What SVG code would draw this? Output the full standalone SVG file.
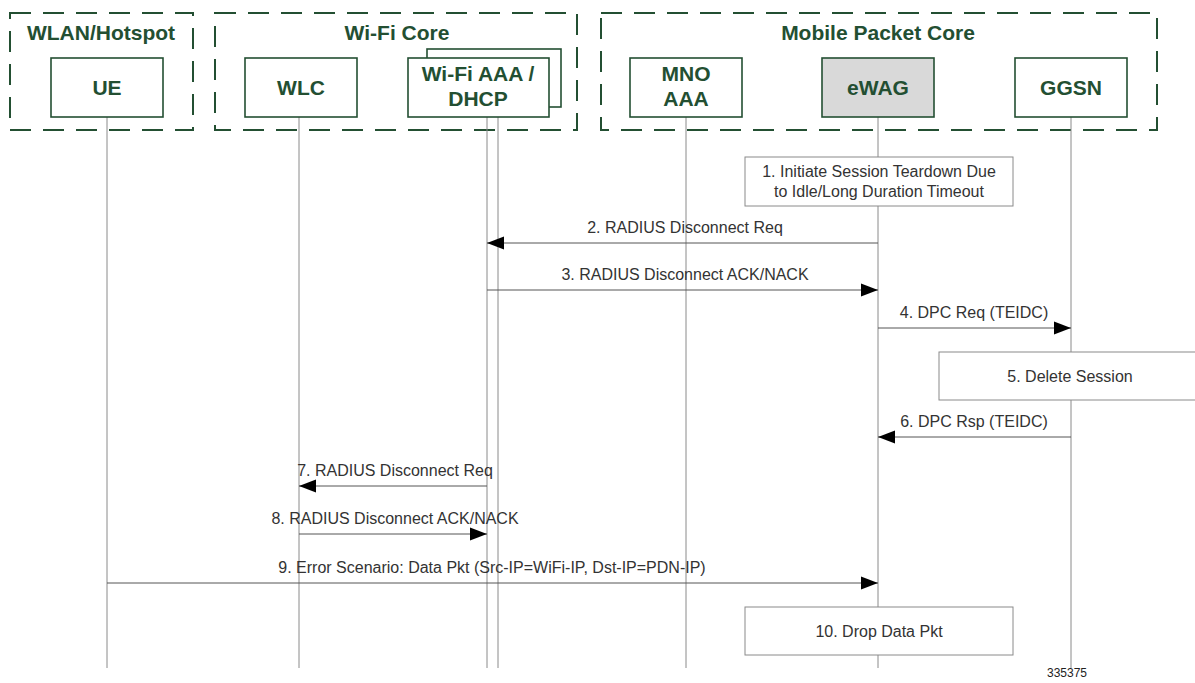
<svg xmlns="http://www.w3.org/2000/svg" width="1195" height="683" viewBox="0 0 1195 683">
<defs>
<style>
.grp{fill:none;stroke:#234f32;stroke-width:2;stroke-dasharray:21 12}
.gt{font-family:"Liberation Sans",Arial,sans-serif;font-weight:bold;font-size:21px;fill:#234f32;text-anchor:middle}
.nb{fill:#fff;stroke:#234f32;stroke-width:1.6}
.nt{font-family:"Liberation Sans",Arial,sans-serif;font-weight:bold;font-size:21px;fill:#234f32;text-anchor:middle}
.life{stroke:#8a8a8a;stroke-width:1;fill:none}
.msg{stroke:#555;stroke-width:1;fill:none}
.lbl{font-family:"Liberation Sans",Arial,sans-serif;font-size:16px;fill:#333;text-anchor:middle}
.box{fill:#fff;stroke:#8a8a8a;stroke-width:1}
</style>
<marker id="ah" markerWidth="17" markerHeight="14" refX="17" refY="7" orient="auto" markerUnits="userSpaceOnUse">
<path d="M0,0.5 L17,7 L0,13.5 Z" fill="#000"/>
</marker>
</defs>
<rect width="1195" height="683" fill="#fff"/>

<g id="groups">
<rect class="grp" x="10" y="13" width="183" height="117"/>
<text class="gt" x="101" y="40">WLAN/Hotspot</text>
<rect class="grp" x="215" y="13" width="362" height="117"/>
<text class="gt" x="397" y="40">Wi-Fi Core</text>
<rect class="grp" x="601" y="13" width="556" height="117"/>
<text class="gt" x="878" y="40">Mobile Packet Core</text>
</g>

<g id="lifelines">
<line class="life" x1="107" y1="117" x2="107" y2="668"/>
<line class="life" x1="299" y1="117" x2="299" y2="668"/>
<line class="life" x1="487" y1="117" x2="487" y2="668"/>
<line class="life" x1="498" y1="117" x2="498" y2="668"/>
<line class="life" x1="686" y1="117" x2="686" y2="668"/>
<line class="life" x1="878" y1="117" x2="878" y2="668"/>
<line class="life" x1="1071" y1="117" x2="1071" y2="668"/>
</g>

<g id="node-ue">
<rect class="nb" x="51" y="58" width="112" height="59"/>
<text class="nt" x="107" y="95">UE</text>
</g>
<g id="node-wlc">
<rect class="nb" x="245" y="58" width="112" height="59"/>
<text class="nt" x="301" y="95">WLC</text>
</g>
<g id="node-wifi-aaa">
<rect class="nb" x="427" y="49" width="134" height="58"/>
<rect class="nb" x="408" y="58" width="141" height="59"/>
<text class="nt" x="478" y="81">Wi-Fi AAA /</text>
<text class="nt" x="478" y="106">DHCP</text>
</g>
<g id="node-mno-aaa">
<rect class="nb" x="630" y="58" width="112" height="59"/>
<text class="nt" x="686" y="81">MNO</text>
<text class="nt" x="686" y="106">AAA</text>
</g>
<g id="node-ewag">
<rect class="nb" x="822" y="58" width="112" height="59" style="fill:#d9d9d9"/>
<text class="nt" x="878" y="95">eWAG</text>
</g>
<g id="node-ggsn">
<rect class="nb" x="1015" y="58" width="112" height="59"/>
<text class="nt" x="1071" y="95">GGSN</text>
</g>

<g id="step1">
<rect class="box" x="745" y="157" width="268" height="49"/>
<text class="lbl" x="879" y="177">1. Initiate Session Teardown Due</text>
<text class="lbl" x="879" y="197">to Idle/Long Duration Timeout</text>
</g>
<g id="step5">
<rect class="box" x="939" y="352" width="262" height="48"/>
<text class="lbl" x="1070" y="382">5. Delete Session</text>
</g>
<g id="step10">
<rect class="box" x="745" y="607" width="268" height="48"/>
<text class="lbl" x="879" y="637">10. Drop Data Pkt</text>
</g>

<g id="connectors">
<line class="msg" x1="878" y1="243" x2="487" y2="243" marker-end="url(#ah)"/>
<line class="msg" x1="487" y1="290" x2="878" y2="290" marker-end="url(#ah)"/>
<line class="msg" x1="878" y1="328" x2="1071" y2="328" marker-end="url(#ah)"/>
<line class="msg" x1="1071" y1="437" x2="878" y2="437" marker-end="url(#ah)"/>
<line class="msg" x1="487" y1="486" x2="299" y2="486" marker-end="url(#ah)"/>
<line class="msg" x1="299" y1="534" x2="487" y2="534" marker-end="url(#ah)"/>
<line class="msg" x1="107" y1="583" x2="878" y2="583" marker-end="url(#ah)"/>
<text class="lbl" x="685" y="233">2. RADIUS Disconnect Req</text>
<text class="lbl" x="685" y="280">3. RADIUS Disconnect ACK/NACK</text>
<text class="lbl" x="974" y="318">4. DPC Req (TEIDC)</text>
<text class="lbl" x="974" y="427">6. DPC Rsp (TEIDC)</text>
<text class="lbl" x="395" y="476">7. RADIUS Disconnect Req</text>
<text class="lbl" x="395" y="524">8. RADIUS Disconnect ACK/NACK</text>
<text class="lbl" x="492" y="573">9. Error Scenario: Data Pkt (Src-IP=WiFi-IP, Dst-IP=PDN-IP)</text>
</g>

<text x="1047" y="677" style="font-family:'Liberation Sans',Arial,sans-serif;font-size:12px;fill:#222">335375</text>
</svg>
